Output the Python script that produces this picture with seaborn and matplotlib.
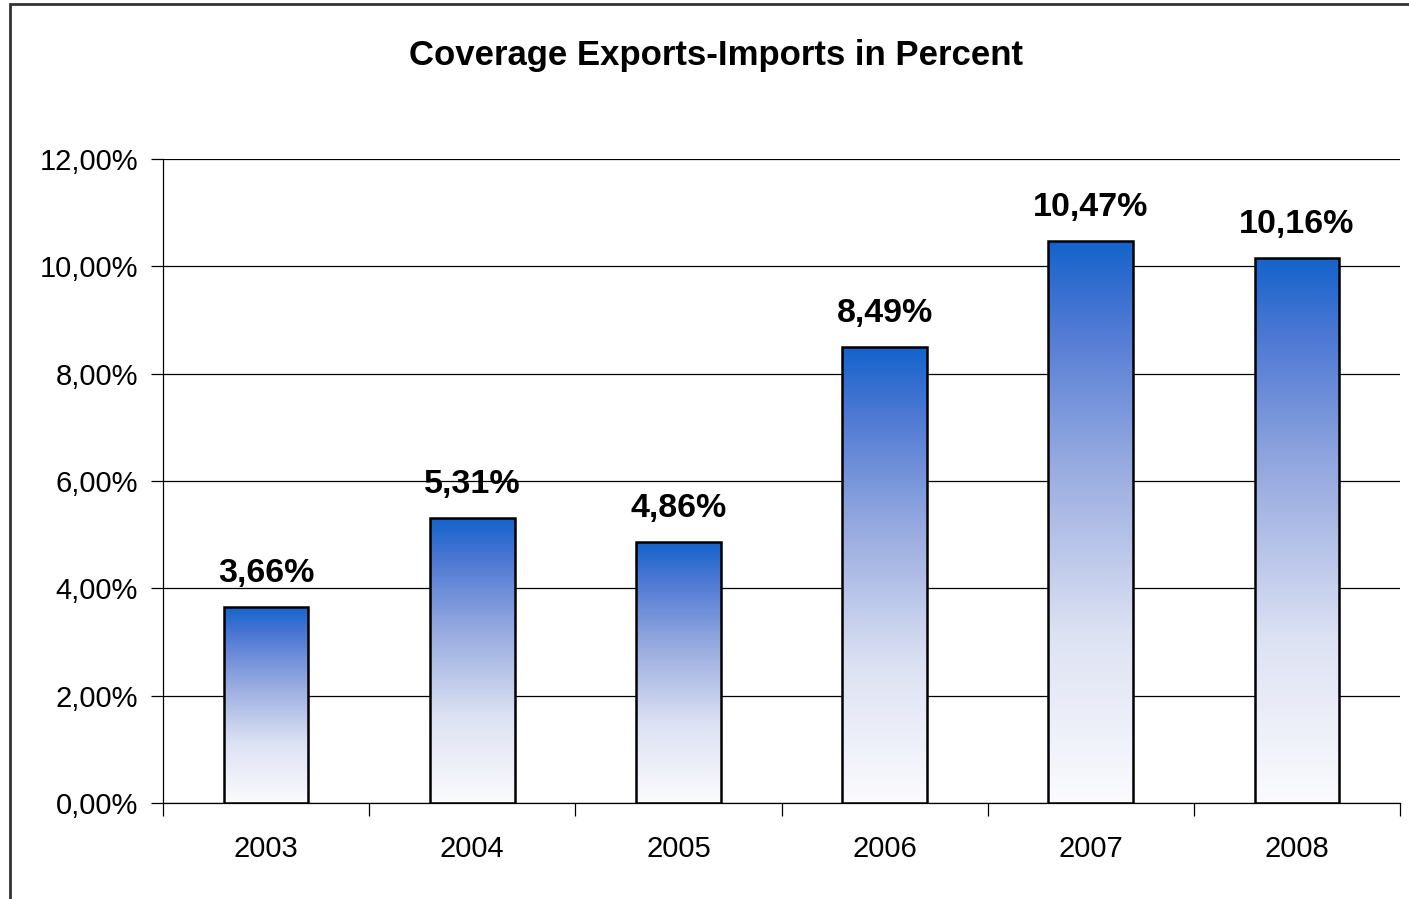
import numpy as np
import pandas as pd
import seaborn as sns
import matplotlib.pyplot as plt
from matplotlib.colors import LinearSegmentedColormap
from matplotlib.patches import Rectangle
from matplotlib.ticker import FuncFormatter, FixedLocator

# data
years = ['2003', '2004', '2005', '2006', '2007', '2008']
coverage = [3.66, 5.31, 4.86, 8.49, 10.47, 10.16]
title = 'Coverage Exports-Imports in Percent'

sns.set_theme(style='white')
plt.rcParams['font.family'] = ['Liberation Sans', 'DejaVu Sans']
plt.rcParams['text.color'] = 'black'
plt.rcParams['xtick.color'] = 'black'
plt.rcParams['ytick.color'] = 'black'

fig = plt.figure(figsize=(14.09, 8.99), dpi=100)
ax = fig.add_axes([163 / 1409, 1 - 803 / 899, (1400 - 163) / 1409, (803 - 159) / 899])

df = pd.DataFrame({'year': years, 'coverage': coverage})
sns.barplot(data=df, x='year', y='coverage', ax=ax, width=0.41,
            facecolor='none', edgecolor='black', linewidth=1.8, zorder=3)

# gradient fill, blue on top fading to white at the base
cmap = LinearSegmentedColormap.from_list(
    'grad', [(0.0, '#fbfbfe'), (0.3, '#dde2f3'), (0.6, '#98abe0'), (0.85, '#4f79d4'), (1.0, '#1463cc')])
grad = np.linspace(0, 1, 256).reshape(-1, 1)
for p in ax.patches:
    x0, y0 = p.get_x(), p.get_y()
    w, h = p.get_width(), p.get_height()
    im = ax.imshow(grad, cmap=cmap, origin='lower', aspect='auto',
                   extent=[x0, x0 + w, y0, y0 + h], zorder=2, interpolation='bilinear')
    im.set_clip_path(p)

ax.set_xlim(-0.5, 5.5)
ax.set_ylim(0, 12)
ax.set_xlabel('')
ax.set_ylabel('')

ax.set_yticks(np.arange(0, 12.1, 2))
ax.yaxis.set_major_formatter(FuncFormatter(lambda v, pos: f'{v:.2f}%'.replace('.', ',')))
ax.grid(axis='y', color='black', linewidth=0.9, zorder=0)
ax.set_axisbelow(True)

ax.xaxis.set_minor_locator(FixedLocator(np.arange(-0.5, 5.6, 1)))
ax.tick_params(axis='x', which='major', length=0, pad=23, labelsize=21, labelcolor='black')
ax.tick_params(axis='x', which='minor', length=9, width=0.9, color='black', direction='out', bottom=True)
ax.tick_params(axis='y', length=9, width=0.9, color='black', direction='out', left=True, pad=9,
               labelsize=21, labelcolor='black')

for side in ['top', 'right']:
    ax.spines[side].set_visible(False)
for side in ['left', 'bottom']:
    ax.spines[side].set_visible(True)
    ax.spines[side].set_color('black')
    ax.spines[side].set_linewidth(0.9)

for i, v in enumerate(coverage):
    ax.annotate(f'{v:.2f}%'.replace('.', ','), (i, v), xytext=(0, 13), textcoords='offset points',
                ha='center', va='bottom', fontsize=24.5, fontweight='bold', color='black')

fig.text(716 / 1409, 1 - 55 / 899, title, ha='center', va='center', fontsize=25, fontweight='bold',
         color='black')

# outer frame (clipped at right and bottom)
fig.patches.append(Rectangle((10 / 1409, -0.1), 1.2, 1 - 4 / 899 + 0.1, transform=fig.transFigure,
                             fill=False, edgecolor='#333333', linewidth=2))

fig.savefig('out.png', dpi=100)
